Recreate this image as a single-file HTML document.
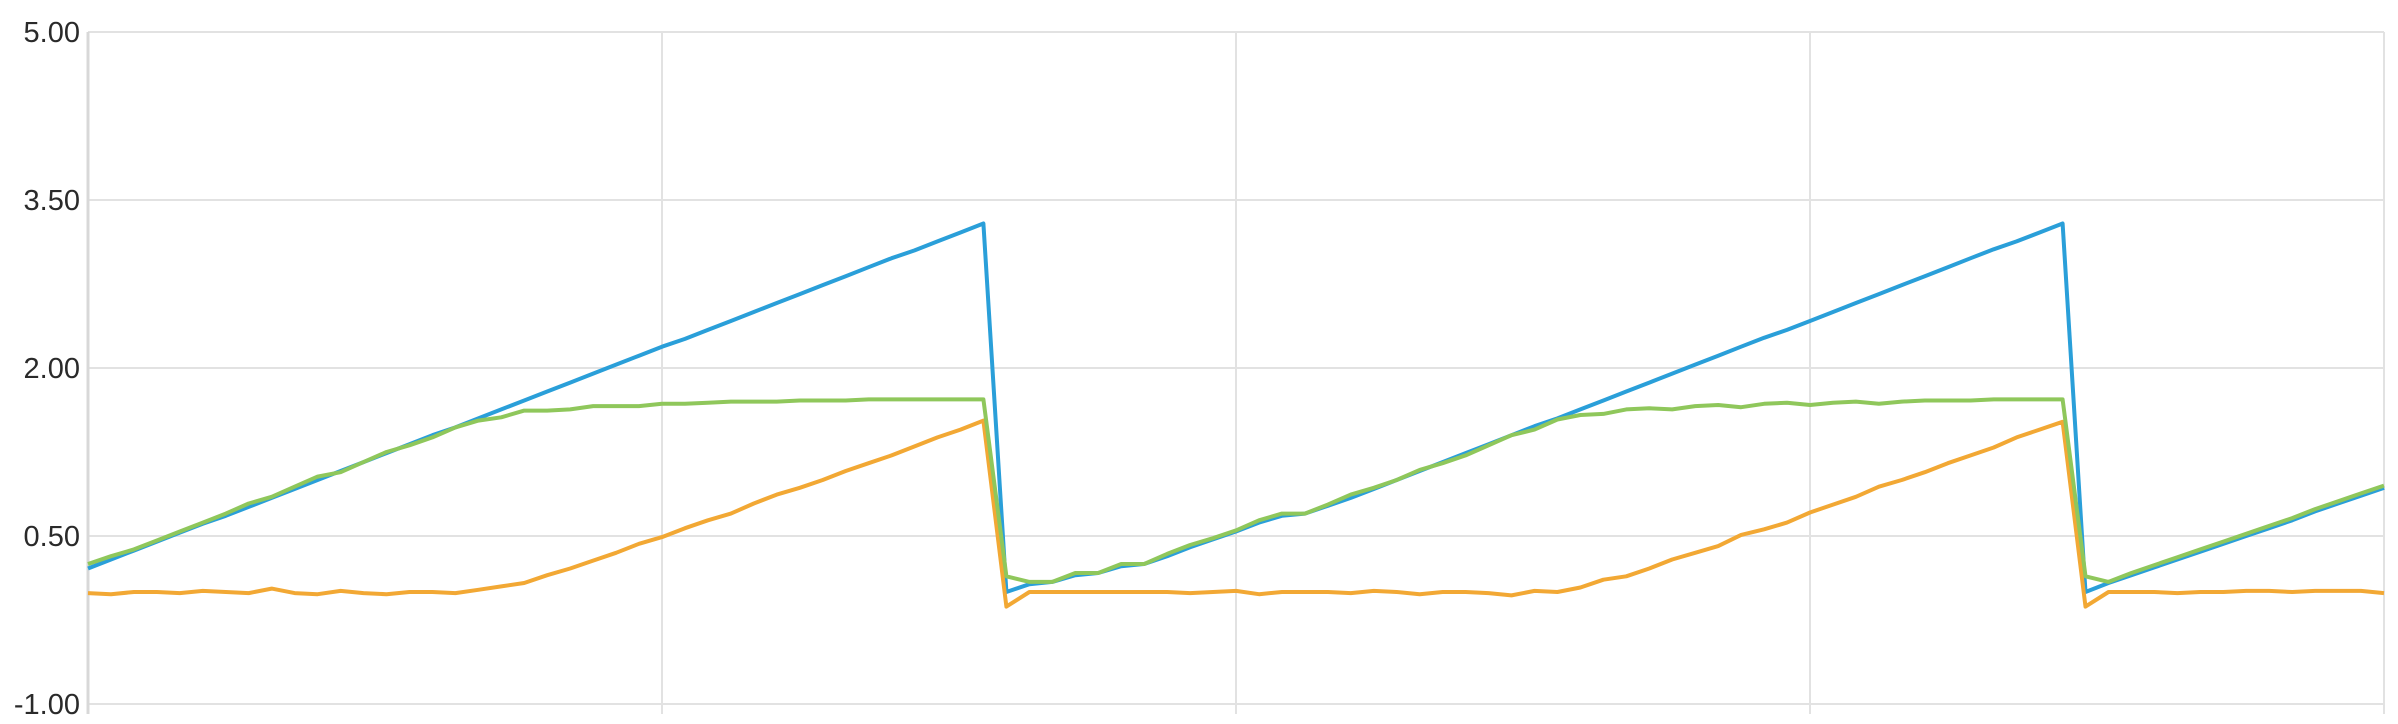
<!DOCTYPE html>
<html><head><meta charset="utf-8"><style>
html,body{margin:0;padding:0;background:#fff;}
svg{display:block;}
text{font-family:"Liberation Sans",sans-serif;}
</style></head><body>
<svg id="chart" width="2398" height="724" viewBox="0 0 2398 724"></svg>
<script>
const yTicks = [5.00, 3.50, 2.00, 0.50, -1.00];
const yTickLabels = ["5.00", "3.50", "2.00", "0.50", "-1.00"];
const xGridCount = 4;
const seriesBlue = [0.21,0.29,0.37,0.45,0.53,0.61,0.68,0.76,0.84,0.92,1.00,1.08,1.16,1.24,1.32,1.40,1.47,1.55,1.63,1.71,1.79,1.87,1.95,2.03,2.11,2.19,2.26,2.34,2.42,2.50,2.58,2.66,2.74,2.82,2.90,2.98,3.05,3.13,3.21,3.29,
0.00,0.07,0.09,0.15,0.17,0.23,0.25,0.32,0.40,0.47,0.54,0.62,0.68,0.70,0.77,0.84,
0.92,1.00,1.08,1.16,1.24,1.32,1.40,1.48,1.55,1.63,1.71,1.79,1.87,1.95,2.03,2.11,2.19,2.27,2.34,2.42,2.50,2.58,2.66,2.74,2.82,2.90,2.98,3.06,3.13,3.21,3.29,
0.00,0.08,0.15,0.22,0.29,0.36,0.43,0.50,0.57,0.64,0.72,0.79,0.86,0.93];
const seriesGreen = [0.25,0.32,0.38,0.46,0.54,0.62,0.70,0.79,0.85,0.94,1.03,1.07,1.16,1.25,1.31,1.38,1.47,1.53,1.56,1.62,1.62,1.63,1.66,1.66,1.66,1.68,1.68,1.69,1.70,1.70,1.70,1.71,1.71,1.71,1.72,1.72,1.72,1.72,1.72,1.72,
0.14,0.09,0.09,0.17,0.17,0.25,0.25,0.34,0.42,0.48,0.55,0.64,0.70,0.70,0.78,0.87,
0.93,1.00,1.09,1.15,1.22,1.31,1.40,1.45,1.54,1.58,1.59,1.63,1.64,1.63,1.66,1.67,1.65,1.68,1.69,1.67,1.69,1.70,1.68,1.70,1.71,1.71,1.71,1.72,1.72,1.72,1.72,
0.14,0.09,0.17,0.24,0.31,0.38,0.45,0.52,0.59,0.66,0.74,0.81,0.88,0.95];
const seriesOrange = [-0.01,-0.02,0.00,0.00,-0.01,0.01,0.00,-0.01,0.03,-0.01,-0.02,0.01,-0.01,-0.02,0.00,0.00,-0.01,0.02,0.05,0.08,0.15,0.21,0.28,0.35,0.43,0.49,0.57,0.64,0.70,0.79,0.87,0.93,1.00,1.08,1.15,1.22,1.30,1.38,1.45,1.53,
-0.13,0.00,0.00,0.00,0.00,0.00,0.00,0.00,-0.01,0.00,0.01,-0.02,0.00,0.00,0.00,-0.01,0.01,0.00,-0.02,0.00,0.00,-0.01,-0.03,0.01,0.00,
0.04,0.11,0.14,0.21,0.29,0.35,0.41,0.51,0.56,0.62,0.71,0.78,0.85,0.94,1.00,1.07,1.15,1.22,1.29,1.38,1.45,1.52,
-0.13,0.00,0.00,0.00,-0.01,0.00,0.00,0.01,0.01,0.00,0.01,0.01,0.01,-0.01];

const svg = document.getElementById('chart');
const NS = 'http://www.w3.org/2000/svg';
const L = 88, R = 2384, T = 32, B = 704;
const yMin = -1, yMax = 5;
const n = seriesBlue.length;
function xScale(i){ return L + (R - L) * i / (n - 1); }
function yScale(v){ return B - (v - yMin) / (yMax - yMin) * (B - T); }
function mk(tag, attrs){ const e = document.createElementNS(NS, tag); for (const k in attrs) e.setAttribute(k, attrs[k]); svg.appendChild(e); return e; }

yTicks.forEach((t, k) => {
  const y = yScale(t);
  const g = mk('line', {x1: L, x2: R, y1: y, y2: y, stroke: '#e2e2e2', 'stroke-width': 2});
  
  
  const tx = mk('text', {x: 80, y: y + 10, 'text-anchor': 'end', 'font-size': 29, fill: '#2a2a2a'});
  tx.textContent = yTickLabels[k];
  
  
});
for (let k = 1; k <= xGridCount; k++) {
  const x = L + (R - L) * k / xGridCount;
  const g = mk('line', {x1: x, x2: x, y1: T, y2: B + 10, stroke: '#e2e2e2', 'stroke-width': 2});
  
  
}
const ax = mk('line', {x1: L, x2: L, y1: T, y2: B + 10, stroke: '#d8d8d8', 'stroke-width': 3});



function drawSeries(arr, color, name){
  const pts = arr.map((v, i) => xScale(i).toFixed(1) + ',' + yScale(v).toFixed(1)).join(' ');
  const p = mk('polyline', {points: pts, fill: 'none', stroke: color, 'stroke-width': 4, 'stroke-linejoin': 'round'});
  
  
}
drawSeries(seriesBlue, '#2a9fd9', 'series-blue-line');
drawSeries(seriesOrange, '#f2a834', 'series-orange-line');
drawSeries(seriesGreen, '#8fc75b', 'series-green-line');
</script>
</body></html>
